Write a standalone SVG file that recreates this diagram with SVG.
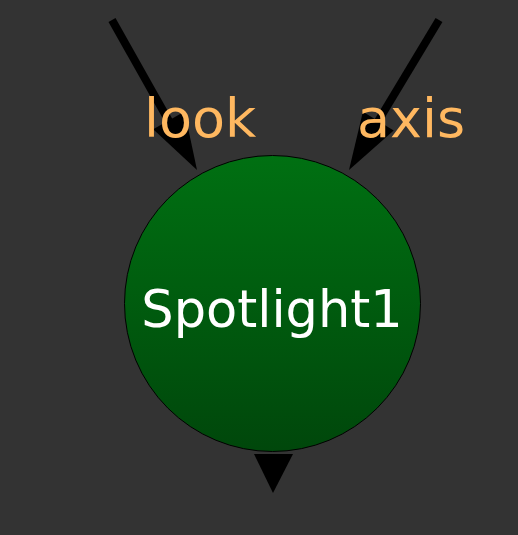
<svg xmlns="http://www.w3.org/2000/svg" width="518" height="535" viewBox="0 0 518 535">
  <defs>
    <linearGradient id="g" x1="0" y1="0" x2="0" y2="1">
      <stop offset="0" stop-color="#007012"/>
      <stop offset="1" stop-color="#00470b"/>
    </linearGradient>
    <style>
      .lbl { font-family: "DejaVu Sans", sans-serif; font-size: 54px; fill: #ffb860; }
      .edge { stroke: #000; stroke-width: 8; fill: none; }
      .head { fill: #000; }
      .name { font-family: "DejaVu Sans", sans-serif; font-size: 51px; fill: #ffffff; text-anchor: middle; }
    </style>
  </defs>
  <rect width="518" height="535" fill="#333333"/>
  <g id="connectors">
    <line class="edge" x1="112" y1="20" x2="170" y2="123"/>
    <polygon class="head" points="197,170 153.2,129.3 184.6,111.5"/>
    <line class="edge" x1="439" y1="20" x2="377" y2="123"/>
    <polygon class="head" points="349,170 393.7,130.4 362.9,111.8"/>
    <polygon class="head" points="254,454 293,454 273,493"/>
  </g>
  <g id="spotlight1">
    <circle cx="272.5" cy="303.5" r="148" fill="url(#g)" stroke="#000" stroke-width="1"/>
    <text class="name" x="272" y="327">Spotlight1</text>
  </g>
  <g id="labels">
    <text class="lbl" x="144" y="137">look</text>
    <text class="lbl" x="357" y="137">axis</text>
  </g>
</svg>
